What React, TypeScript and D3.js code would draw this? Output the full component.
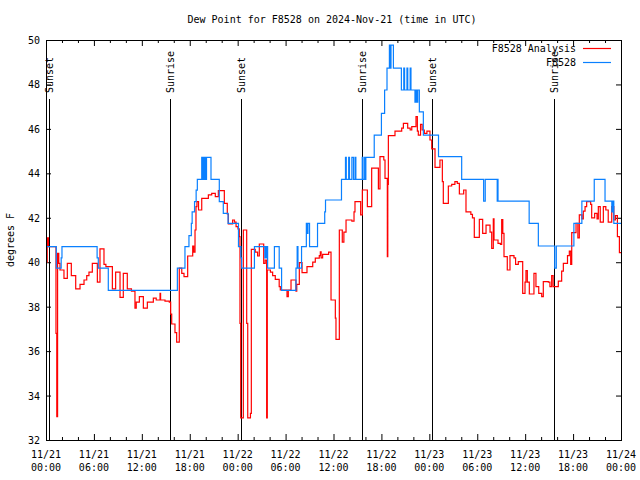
import React from "react";
import * as d3 from "d3";

// ---- data (hours since 2024-11-21 00:00 UTC, degrees F) ----
const analysisHours = [0.0, 0.15, 0.3, 1.25, 1.35, 1.45, 1.6, 1.75, 2.25, 2.67, 3.17, 3.72, 4.26, 4.76, 5.1, 5.38, 5.8, 6.43, 6.76, 7.26, 7.5, 8.31, 8.72, 9.27, 9.68, 10.18, 10.7, 11.14, 11.3, 11.69, 12.19, 12.69, 13.44, 13.8, 14.28, 14.35, 14.9, 15.44, 15.61, 15.74, 16.15, 16.36, 16.69, 17.0, 17.28, 17.74, 18.37, 18.5, 18.66, 18.78, 18.9, 19.1, 19.5, 20.33, 20.75, 21.2, 21.58, 22.33, 22.7, 22.83, 23.37, 23.6, 23.8, 24.04, 24.2, 24.29, 24.38, 24.71, 25.13, 25.26, 25.6, 25.71, 26.2, 26.5, 26.71, 27.26, 27.45, 27.63, 27.71, 28.1, 28.38, 28.71, 29.2, 29.34, 30.18, 30.34, 30.68, 31.3, 31.4, 31.72, 32.06, 32.68, 33.4, 33.72, 34.22, 34.35, 34.45, 34.64, 35.39, 35.69, 36.23, 36.31, 36.73, 37.1, 37.3, 37.57, 38.3, 38.57, 38.69, 39.4, 39.61, 40.24, 40.78, 41.62, 41.82, 42.3, 42.45, 42.74, 42.8, 42.87, 43.7, 44.54, 44.75, 45.29, 45.6, 45.8, 46.33, 46.5, 46.62, 46.9, 47.1, 47.37, 47.7, 48.08, 48.3, 48.71, 49.33, 49.63, 49.75, 50.38, 50.8, 51.2, 51.5, 51.76, 52.3, 52.59, 53.2, 53.4, 53.63, 54.26, 54.68, 55.1, 55.6, 55.81, 56.01, 56.1, 56.6, 56.9, 57.06, 57.2, 57.35, 57.76, 58.1, 58.6, 58.8, 59.14, 59.69, 59.98, 60.1, 60.27, 60.52, 61.1, 61.35, 61.7, 62.07, 62.27, 62.9, 63.1, 63.32, 63.5, 64.15, 64.57, 64.78, 65.3, 65.53, 65.7, 65.83, 66.37, 66.6, 66.78, 67.1, 67.28, 67.5, 67.7, 68.2, 68.33, 68.7, 69.0, 69.16, 69.4, 69.79, 70.1, 70.4, 70.84, 71.1, 71.3, 71.55, 71.8, 72.0];
const analysisValues = [40.0, 41.1, 40.7, 36.8, 33.05, 40.4, 39.95, 39.65, 39.27, 39.95, 39.4, 38.8, 39.0, 39.2, 39.4, 39.55, 39.95, 39.1, 40.6, 39.9, 39.8, 38.8, 39.55, 38.42, 39.5, 38.8, 38.7, 37.93, 38.2, 38.45, 37.93, 38.2, 38.38, 38.3, 38.6, 38.3, 38.25, 38.2, 37.66, 37.22, 36.83, 36.4, 39.73, 39.5, 39.35, 40.28, 40.73, 40.45, 41.45, 42.5, 42.73, 42.35, 42.87, 43.03, 43.1, 42.95, 43.22, 42.65, 42.17, 41.72, 41.9, 41.8, 41.6, 41.5, 41.15, 37.25, 33.0, 41.45, 37.25, 33.0, 33.2, 40.58, 40.45, 40.28, 40.82, 39.95, 40.1, 33.0, 39.65, 39.55, 39.4, 39.23, 38.9, 38.75, 38.45, 38.75, 39.2, 38.7, 39.0, 39.98, 39.53, 39.8, 40.0, 40.18, 40.3, 40.47, 40.2, 40.35, 40.45, 38.3, 37.48, 36.53, 41.45, 40.9, 41.35, 41.9, 41.85, 42.27, 42.73, 42.13, 43.25, 42.5, 44.23, 43.3, 44.75, 44.6, 43.77, 40.25, 43.5, 45.7, 45.9, 46.03, 46.25, 46.03, 45.95, 46.1, 46.55, 45.9, 45.72, 46.2, 45.95, 45.8, 45.9, 45.5, 45.1, 44.27, 44.6, 43.63, 42.65, 43.43, 43.5, 43.63, 43.55, 43.07, 43.25, 42.27, 42.15, 42.0, 41.12, 41.93, 41.3, 41.67, 41.35, 40.62, 41.95, 41.0, 40.85, 40.8, 41.92, 41.3, 40.25, 39.65, 40.3, 40.2, 39.9, 40.03, 38.6, 39.1, 39.62, 39.1, 38.57, 39.5, 38.9, 38.6, 38.45, 39.13, 39.1, 38.9, 39.4, 38.9, 39.15, 39.6, 39.95, 40.3, 40.5, 39.9, 41.33, 41.75, 41.1, 42.13, 41.95, 42.3, 42.5, 42.73, 42.6, 42.0, 42.2, 41.95, 42.5, 41.8, 42.5, 42.35, 41.8, 42.5, 41.9, 42.1, 41.15, 40.43, 40.43];

const obsHours = [0.05, 1.29, 1.9, 2.0, 6.4, 6.55, 7.8, 16.45, 17.4, 17.9, 18.2, 18.3, 18.6, 18.8, 18.95, 19.5, 19.6, 19.7, 19.8, 19.9, 20.0, 20.1, 20.66, 21.7, 22.2, 22.8, 24.1, 24.4, 24.5, 26.1, 27.4, 27.5, 27.6, 27.7, 27.75, 28.6, 29.2, 29.5, 31.3, 31.45, 31.55, 32.0, 32.6, 32.7, 32.8, 33.0, 34.0, 34.9, 35.0, 37.0, 37.5, 37.6, 37.9, 38.0, 38.3, 38.5, 38.7, 38.8, 39.6, 39.7, 39.9, 40.0, 40.05, 41.1, 42.0, 42.4, 42.7, 43.0, 43.1, 43.2, 43.5, 44.5, 44.8, 44.9, 45.2, 45.3, 45.6, 45.7, 46.2, 46.3, 46.45, 46.55, 46.75, 47.25, 49.15, 52.05, 54.8, 55.0, 56.5, 56.55, 56.6, 60.5, 61.65, 63.7, 63.9, 66.1, 67.1, 68.65, 70.0, 70.85, 70.9, 71.0, 71.05, 71.1, 72.0];
const obsValues = [40.7, 39.73, 40.2, 40.7, 40.2, 39.73, 38.73, 39.73, 40.7, 41.2, 41.75, 42.27, 42.73, 43.24, 43.73, 44.72, 43.73, 44.72, 43.73, 44.72, 43.73, 44.72, 43.73, 42.73, 42.2, 41.75, 40.7, 40.2, 39.73, 40.7, 40.2, 40.7, 40.2, 40.7, 39.73, 40.7, 39.73, 38.73, 39.73, 40.7, 39.73, 40.7, 41.75, 41.3, 41.75, 40.7, 41.75, 42.27, 42.8, 43.73, 44.72, 43.73, 44.72, 43.73, 44.72, 43.73, 44.72, 43.73, 44.72, 43.73, 44.72, 43.73, 44.72, 45.72, 46.7, 47.75, 48.73, 49.77, 48.73, 49.77, 48.73, 47.75, 48.73, 47.75, 48.73, 47.75, 48.73, 47.75, 47.2, 47.75, 47.2, 47.75, 46.77, 45.72, 44.75, 43.73, 42.75, 43.73, 42.75, 43.73, 42.75, 41.75, 40.73, 39.73, 40.73, 41.75, 42.75, 43.73, 42.75, 42.27, 42.75, 42.27, 42.75, 41.75, 41.75];

const sunLabels = ["Sunset", "Sunrise", "Sunset", "Sunrise", "Sunset", "Sunrise"];
const sunHours = [0.375, 15.5, 24.45, 39.6, 48.37, 63.65];

const xTickHours = [0, 6, 12, 18, 24, 30, 36, 42, 48, 54, 60, 66, 72];
const xTickDates = ["11/21", "11/21", "11/21", "11/21", "11/22", "11/22", "11/22", "11/22", "11/23", "11/23", "11/23", "11/23", "11/24"];
const xTickTimes = ["00:00", "06:00", "12:00", "18:00", "00:00", "06:00", "12:00", "18:00", "00:00", "06:00", "12:00", "18:00", "00:00"];
const yTicks = [32, 34, 36, 38, 40, 42, 44, 46, 48, 50];

const seriesNames = ["F8528 Analysis", "F8528"];
const seriesColors = ["#ff0000", "#0a80ff"];

const W = 640, H = 480;
const L = 46, R = 621, T = 40, B = 440;
const FONT = "'DejaVu Sans Mono', monospace";

export default function App() {
  const x = d3.scaleLinear().domain([0, 72]).range([L, R]);
  const y = d3.scaleLinear().domain([32, 50]).range([B, T]);
  const line = d3
    .line<[number, number]>()
    .x((d) => x(d[0]))
    .y((d) => y(d[1]))
    .curve(d3.curveStepAfter);
  const analysis = analysisHours.map((h, i) => [h, analysisValues[i]] as [number, number]);
  const obs = obsHours.map((h, i) => [h, obsValues[i]] as [number, number]);
  const minorHours = d3.range(0, 73, 2).filter((h) => h % 6 !== 0);

  return (
    <svg
      width={W}
      height={H}
      style={{ position: "absolute", left: 0, top: 0, background: "#fff" }}
      fontFamily={FONT}
      fontSize={10}
    >
      <rect x={0} y={0} width={W} height={H} fill="#fff" />
      <text x={332} y={23} textAnchor="middle">
        Dew Point for F8528 on 2024-Nov-21 (time in UTC)
      </text>
      <text transform={`translate(14,${(T + B) / 2}) rotate(-90)`} textAnchor="middle">
        degrees F
      </text>

      {/* y ticks */}
      {yTicks.map((v) => (
        <g key={"y" + v}>
          <line x1={L} x2={L + 5} y1={y(v) + 0.5} y2={y(v) + 0.5} stroke="#000" />
          <line x1={R - 5} x2={R} y1={y(v) + 0.5} y2={y(v) + 0.5} stroke="#000" />
          <text x={40} y={y(v) + 4} textAnchor="end">
            {v}
          </text>
        </g>
      ))}

      {/* x ticks */}
      {xTickHours.map((h, i) => (
        <g key={"x" + h}>
          <line x1={x(h) + 0.5} x2={x(h) + 0.5} y1={B} y2={B - 6} stroke="#000" />
          <line x1={x(h) + 0.5} x2={x(h) + 0.5} y1={T} y2={T + 6} stroke="#000" />
          <text x={x(h)} y={458} textAnchor="middle">
            {xTickDates[i]}
          </text>
          <text x={x(h)} y={471} textAnchor="middle">
            {xTickTimes[i]}
          </text>
        </g>
      ))}
      {minorHours.map((h) => (
        <g key={"m" + h}>
          <line x1={x(h) + 0.5} x2={x(h) + 0.5} y1={B} y2={B - 3} stroke="#000" />
          <line x1={x(h) + 0.5} x2={x(h) + 0.5} y1={T} y2={T + 3} stroke="#000" />
        </g>
      ))}

      {/* sunrise / sunset */}
      {sunHours.map((h, i) => (
        <g key={"s" + i}>
          <line x1={Math.round(x(h)) + 0.5} x2={Math.round(x(h)) + 0.5} y1={99} y2={B} stroke="#000" />
          <text transform={`translate(${x(h) + 4},93) rotate(-90)`} textAnchor="start">
            {sunLabels[i]}
          </text>
        </g>
      ))}

      {/* series */}
      <path d={line(analysis) || ""} fill="none" stroke={seriesColors[0]} strokeWidth={1.2} />
      <path d={line(obs) || ""} fill="none" stroke={seriesColors[1]} strokeWidth={1.2} />

      {/* frame */}
      <rect x={L + 0.5} y={T + 0.5} width={R - L} height={B - T} fill="none" stroke="#000" />

      {/* legend */}
      {seriesNames.map((n, i) => (
        <g key={"l" + i}>
          <text x={576} y={52 + i * 14} textAnchor="end">
            {n}
          </text>
          <line x1={583} x2={611} y1={48.5 + i * 14} y2={48.5 + i * 14} stroke={seriesColors[i]} strokeWidth={1.2} />
        </g>
      ))}
    </svg>
  );
}
